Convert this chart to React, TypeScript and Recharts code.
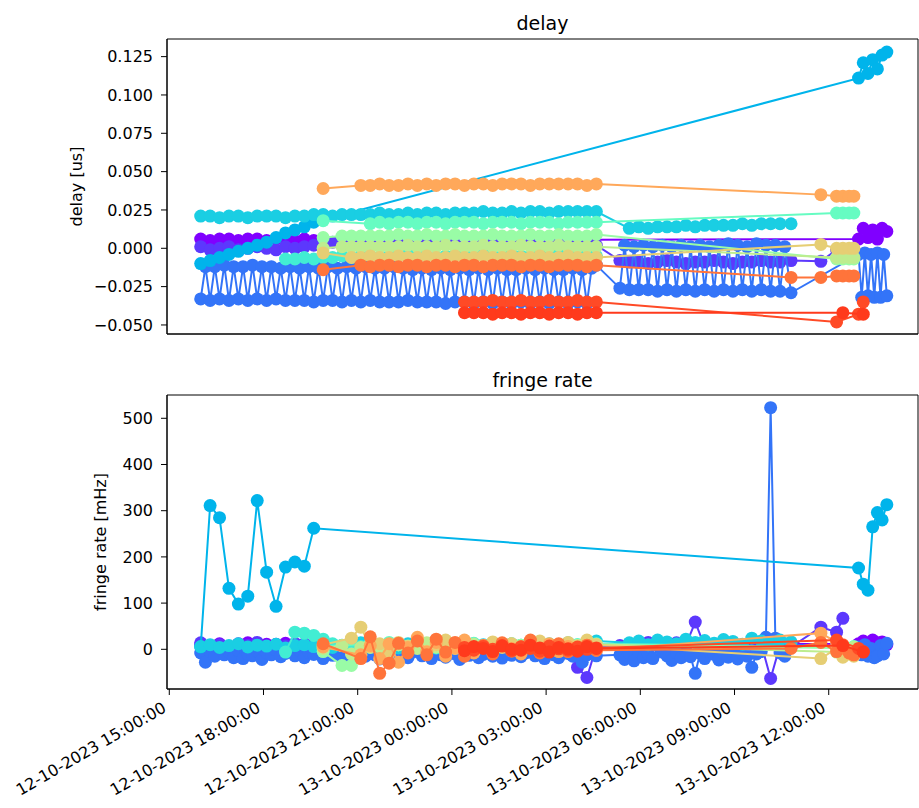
import React from 'react';
import { ScatterChart, Scatter, XAxis, YAxis, ReferenceArea } from 'recharts';

/* ── Data ─────────────────────────────────────────────────────────────── */
// hours counted from 12-10-2023 00:00
const _ = null;

const scanHours = [
  // evening / night block
  16.0, 16.3, 16.6, 16.9, 17.2, 17.5, 17.8, 18.1, 18.4, 18.7,
  19.0, 19.3, 19.6, 19.9, 20.2, 20.5, 20.8, 21.1, 21.4, 21.7,
  22.0, 22.3, 22.6, 22.9, 23.2, 23.5, 23.8, 24.1, 24.4, 24.7,
  25.0, 25.3, 25.6, 25.9, 26.2, 26.5, 26.8, 27.1, 27.4, 27.7,
  28.0, 28.3, 28.6,
  // morning block
  29.35, 29.65, 29.95, 30.25, 30.55, 30.85, 31.15, 31.45, 31.75, 32.05,
  32.35, 32.65, 32.95, 33.25, 33.55, 33.85, 34.15, 34.45, 34.8,
  // around noon
  35.75, 36.25, 36.45, 36.65, 36.8,
  36.95, 37.1, 37.25, 37.4, 37.55, 37.7, 37.85,
];

// the blue baseline alternates between two sources, so it has its own, denser scan list
const blueHours = [
  16.0, 16.15, 16.3, 16.45, 16.6, 16.75, 16.9, 17.05, 17.2, 17.35,
  17.5, 17.65, 17.8, 17.95, 18.1, 18.25, 18.4, 18.55, 18.7, 18.85,
  19.0, 19.15, 19.3, 19.45, 19.6, 19.75, 19.9, 20.05, 20.2, 20.35,
  20.5, 20.65, 20.8, 20.95, 21.1, 21.25, 21.4, 21.55, 21.7, 21.85,
  22.0, 22.15, 22.3, 22.45, 22.6, 22.75, 22.9, 23.05, 23.2, 23.35,
  23.5, 23.65, 23.8, 23.95, 24.1, 24.25, 24.4, 24.55, 24.7, 24.85,
  25.0, 25.15, 25.3, 25.45, 25.6, 25.75, 25.9, 26.05, 26.2, 26.35,
  26.5, 26.65, 26.8, 26.95, 27.1, 27.25, 27.4, 27.55, 27.7, 27.85,
  28.0, 28.15, 28.3, 28.45, 28.6,
  29.35, 29.5, 29.65, 29.8, 29.95, 30.1, 30.25, 30.4, 30.55, 30.7,
  30.85, 31.0, 31.15, 31.3, 31.45, 31.6, 31.75, 31.9, 32.05, 32.2,
  32.35, 32.5, 32.65, 32.8, 32.95, 33.1, 33.25, 33.4, 33.55, 33.7,
  33.85, 34.0, 34.15, 34.3, 34.45, 34.6, 34.8,
  36.95, 37.05, 37.15, 37.25, 37.35, 37.45, 37.55, 37.65, 37.75, 37.85,
];

const xTicks = [15, 18, 21, 24, 27, 30, 33, 36];
const xTickLabels = [
  '12-10-2023 15:00:00', '12-10-2023 18:00:00', '12-10-2023 21:00:00', '13-10-2023 00:00:00',
  '13-10-2023 03:00:00', '13-10-2023 06:00:00', '13-10-2023 09:00:00', '13-10-2023 12:00:00',
];
const delayTicks = [-0.05, -0.025, 0, 0.025, 0.05, 0.075, 0.1, 0.125];
const rateTicks = [0, 100, 200, 300, 400, 500];

const purpleDelay = [
  0.006, 0.005, 0.006, 0.006, 0.005, 0.006, 0.006, 0.005, 0.006, 0.006,
  0.005, 0.006, 0.005, _, _, _, _, _, _, _,
  _, _, _, _, _, _, _, _, _, _,
  _, _, _, _, _, _, _, _, _, _,
  _, _, _,
  _, _, _, _, _, _, _, _, _, _,
  _, _, _, _, _, _, _, _, _,
  _, _, _, _, _,
  0.006, 0.013, 0.007, 0.012, 0.006, 0.013, 0.011,
];
const purpleRate = [
  10, 4, 12, 6, 9, 14, 7, 11, 5, 13,
  8, 12, 9, _, _, _, _, _, _, _,
  _, _, _, _, _, _, _, _, _, _,
  _, _, _, _, _, _, _, _, _, _,
  _, _, _,
  _, _, _, _, _, _, _, _, _, _,
  _, _, _, _, _, _, _, _, _,
  _, _, _, _, _,
  12, 18, 8, 20, 14, 16, 10,
];

const violetDelay = [
  0.001, -0.001, 0.000, 0.001, -0.001, 0.000, 0.001, 0.000, -0.001, 0.001,
  0.000, 0.001, 0.002, 0.004, 0.004, 0.003, 0.004, 0.003, 0.003, 0.004,
  0.003, 0.003, 0.004, 0.003, 0.003, 0.004, 0.003, 0.003, 0.004, 0.003,
  0.003, 0.004, 0.003, 0.003, 0.004, 0.003, 0.003, 0.004, 0.003, 0.003,
  0.004, 0.003, 0.002,
  -0.008, -0.009, -0.009, -0.010, -0.009, -0.008, -0.009, -0.010, -0.009, -0.009,
  -0.008, -0.009, -0.010, -0.009, -0.009, -0.008, -0.009, -0.009, -0.008,
  -0.0085, -0.001, -0.002, _, _,
  _, _, _, _, _, _, _,
];
const violetRate = [
  14, 6, 10, 3, 12, 8, 15, 5, 11, 7,
  13, 4, 9, 6, 10, 2, 8, 12, 5, 9,
  3, 11, 7, 14, 6, 2, 10, 8, 4, 12,
  6, 9, 3, 11, 8, 5, 13, 2, 7, 10,
  -39, -61, 6,
  8, 12, 5, 15, 10, 7, 14, 9, 59, 6,
  11, 13, 4, 10, 8, 12, -63, 9, 5,
  48, 37, 67, _, _,
  _, _, _, _, _, _, _,
];

// aligned with blueHours
const blueDelay = [
  -0.033, -0.012, -0.034, -0.012, -0.033, -0.011, -0.034, -0.012, -0.033, -0.012,
  -0.034, -0.011, -0.033, -0.012, -0.034, -0.012, -0.033, -0.013, -0.034, -0.012,
  -0.034, -0.013, -0.034, -0.012, -0.035, -0.013, -0.034, -0.012, -0.034, -0.013,
  -0.035, -0.012, -0.034, -0.013, -0.035, -0.012, -0.034, -0.013, -0.035, -0.013,
  -0.035, -0.012, -0.035, -0.013, -0.034, -0.014, -0.035, -0.013, -0.035, -0.014,
  -0.035, -0.013, -0.036, -0.014, -0.035, -0.013, -0.035, -0.014, -0.036, -0.013,
  -0.035, -0.014, -0.036, -0.013, -0.035, -0.014, -0.036, -0.014, -0.035, -0.013,
  -0.036, -0.014, -0.035, -0.013, -0.036, -0.014, -0.035, -0.014, -0.036, -0.013,
  -0.035, -0.014, -0.036, -0.013, -0.011,
  -0.026, 0.002, -0.027, 0.001, -0.027, 0.002, -0.027, 0.001, -0.028, 0.002,
  -0.027, 0.001, -0.028, 0.002, -0.027, 0.001, -0.028, 0.002, -0.027, 0.001,
  -0.028, 0.002, -0.027, 0.003, -0.028, 0.002, -0.027, 0.001, -0.028, 0.003,
  -0.027, 0.002, -0.028, 0.002, -0.028, 0.001, -0.029,
  -0.004, -0.032, -0.003, -0.031, -0.004, -0.032, -0.003, -0.032, -0.004, -0.031,
];
const blueRate = [
  -8, -28, -5, -15, 2, -12, -6, -18, -3, -20,
  -10, -14, -4, -22, -8, -12, -2, -16, -9, -5,
  -14, -3, -18, -7, -11, -2, -20, -6, -13, -4,
  -19, -8, -22, -3, -10, -15, -5, -12, -21, -7,
  -9, -16, -4, -11, -18, -6, -2, -14, -8, -20,
  -5, -12, -17, -3, -10, -22, -7, -13, -4, -18,
  -11, -6, -15, -2, -19, -9, -13, -5, -16, -8,
  -3, -14, -10, -20, -6, -12, -18, -4, -9, -15,
  -7, -28, -12, -5, -14,
  -12, -22, -8, -25, -5, -18, -10, -20, 8, -6,
  -14, -24, -7, -18, -3, -16, -52, -9, -20, -5,
  -11, -23, -8, -17, -4, -21, -9, -15, -39, -10,
  -5, 26, 523, 24, -8, -15, 10,
  5, -12, 10, -15, 2, -18, -14, 8, -10, 13,
];

const lightBlueDelay = [
  -0.010, -0.008, -0.006, -0.004, -0.002, 0.000, 0.002, 0.004, 0.007, 0.010,
  0.012, 0.014, 0.017, _, _, _, _, _, _, _,
  _, _, _, _, _, _, _, _, _, _,
  _, _, _, _, _, _, _, _, _, _,
  _, _, _,
  _, _, _, _, _, _, _, _, _, _,
  _, _, _, _, _, _, _, _, _,
  _, _, _, _, _,
  0.111, 0.121, 0.114, 0.123, 0.117, 0.126, 0.128,
];
const lightBlueRate = [
  5, 311, 285, 132, 98, 115, 322, 167, 93, 178,
  189, 180, 262, _, _, _, _, _, _, _,
  _, _, _, _, _, _, _, _, _, _,
  _, _, _, _, _, _, _, _, _, _,
  _, _, _,
  _, _, _, _, _, _, _, _, _, _,
  _, _, _, _, _, _, _, _, _,
  _, _, _, _, _,
  176, 141, 128, 265, 296, 280, 313,
];

const cyanDelay = [
  0.021, 0.021, 0.020, 0.021, 0.021, 0.020, 0.021, 0.021, 0.021, 0.020,
  0.021, 0.021, 0.022, 0.022, 0.021, 0.022, 0.022, 0.022, 0.022, 0.023,
  0.022, 0.022, 0.023, 0.022, 0.023, 0.023, 0.022, 0.023, 0.023, 0.023,
  0.024, 0.023, 0.023, 0.024, 0.023, 0.024, 0.024, 0.023, 0.024, 0.024,
  0.024, 0.024, 0.024,
  _, 0.013, 0.014, 0.013, 0.014, 0.014, 0.014, 0.015, 0.014, 0.015,
  0.015, 0.015, 0.015, 0.016, 0.015, 0.016, 0.016, 0.016, 0.016,
  _, _, _, _, _,
  _, _, _, _, _, _, _,
];
const cyanRate = [
  6, 10, 4, 8, 12, 5, 9, 7, 11, 3,
  8, 10, 6, 12, 4, 9, 7, 14, 5, 10,
  8, 3, 12, 6, 9, 11, 4, 8, 13, 6,
  10, 5, 9, 12, 7, 4, 11, 8, 6, 14,
  9, 12, 18,
  _, 14, 18, 10, 20, 16, 12, 22, 15, 19,
  13, 21, 17, 11, 24, 18, 14, 20, 16,
  _, _, _, _, _,
  _, _, _, _, _, _, _,
];

const turquoiseDelay = [
  _, _, _, _, _, _, _, _, _, -0.007,
  -0.007, -0.006, -0.007, -0.006, -0.006, -0.005, -0.006, -0.005, -0.005, -0.006,
  -0.005, -0.005, -0.004, -0.005, -0.005, -0.006, -0.005, -0.004, -0.005, -0.005,
  -0.004, -0.005, -0.005, -0.004, -0.005, -0.005, -0.004, -0.005, -0.004, -0.005,
  -0.005, -0.004, -0.005,
  _, _, _, _, _, _, _, _, _, _,
  _, _, _, _, _, _, _, _, _,
  _, _, _, _, _,
  _, _, _, _, _, _, _,
];
const turquoiseRate = [
  _, _, _, _, _, _, _, _, _, -6,
  37, 35, 30, 22, 12, 8, 14, 6, 10, 4,
  9, 12, 5, 8, 11, 3, 7, 10, 6, 9,
  4, 8, 11, 6, 9, 3, 7, 12, 5, 8,
  10, 6, 9,
  _, _, _, _, _, _, _, _, _, _,
  _, _, _, _, _, _, _, _, _,
  _, _, _, _, _,
  _, _, _, _, _, _, _,
];

const aquaDelay = [
  _, _, _, _, _, _, _, _, _, _,
  _, _, _, 0.018, _, _, _, _, 0.016, 0.017,
  0.016, 0.017, 0.017, 0.016, 0.017, 0.017, 0.016, 0.017, 0.017, 0.017,
  0.016, 0.017, 0.017, 0.017, 0.016, 0.017, 0.017, 0.017, 0.016, 0.017,
  0.017, 0.017, 0.017,
  _, _, _, _, _, _, _, _, _, _,
  _, _, _, _, _, _, _, _, _,
  _, 0.023, 0.023, 0.023, 0.023,
  _, _, _, _, _, _, _,
];
const aquaRate = [
  _, _, _, _, _, _, _, _, _, _,
  _, _, _, 6, _, _, _, _, 12, 8,
  15, 10, 6, 12, 9, 14, 7, 11, 5, 13,
  8, 10, 12, 6, 9, 15, 7, 11, 8, 13,
  10, 6, 12,
  _, _, _, _, _, _, _, _, _, _,
  _, _, _, _, _, _, _, _, _,
  _, 4, 8, 2, 6,
  _, _, _, _, _, _, _,
];

const lightGreenDelay = [
  _, _, _, _, _, _, _, _, _, _,
  _, _, _, 0.007, _, 0.008, 0.008, 0.008, 0.008, 0.008,
  0.008, 0.009, 0.008, 0.008, 0.009, 0.008, 0.008, 0.009, 0.008, 0.008,
  0.008, 0.009, 0.008, 0.008, 0.008, 0.009, 0.008, 0.008, 0.009, 0.008,
  0.008, 0.008, 0.009,
  _, _, _, _, _, _, _, _, _, _,
  _, _, _, _, _, _, _, _, _,
  _, -0.007, -0.007, -0.007, -0.007,
  _, _, _, _, _, _, _,
];
const lightGreenRate = [
  _, _, _, _, _, _, _, _, _, _,
  _, _, _, -5, _, -35, -35, -12, 4, 8,
  6, 10, 3, 8, 12, 5, 9, 7, 11, 4,
  8, 6, 10, 3, 9, 12, 5, 7, 10, 6,
  8, 4, 9,
  _, _, _, _, _, _, _, _, _, _,
  _, _, _, _, _, _, _, _, _,
  _, 3, 6, 0, 5,
  _, _, _, _, _, _, _,
];

const yellowGreenDelay = [
  _, _, _, _, _, _, _, _, _, _,
  _, _, _, 0.000, _, 0.001, 0.001, 0.001, 0.001, 0.001,
  0.001, 0.001, 0.002, 0.001, 0.001, 0.001, 0.002, 0.001, 0.001, 0.001,
  0.002, 0.001, 0.001, 0.001, 0.002, 0.001, 0.001, 0.001, 0.002, 0.001,
  0.001, 0.001, 0.001,
  _, _, _, _, _, _, _, _, _, _,
  _, _, _, _, _, _, _, _, _,
  _, -0.006, -0.006, -0.006, -0.006,
  _, _, _, _, _, _, _,
];
const yellowGreenRate = [
  _, _, _, _, _, _, _, _, _, _,
  _, _, _, 2, _, 8, -10, 4, 12, 6,
  -4, 10, 7, 2, 14, 5, -6, 9, 3, 11,
  6, -3, 8, 12, 4, 9, -5, 7, 10, 3,
  8, 5, 11,
  _, _, _, _, _, _, _, _, _, _,
  _, _, _, _, _, _, _, _, _,
  _, -6, 2, -10, 4,
  _, _, _, _, _, _, _,
];

const khakiDelay = [
  _, _, _, _, _, _, _, _, _, _,
  _, _, _, -0.003, _, _, -0.006, -0.006, -0.005, -0.006,
  -0.006, -0.005, -0.006, -0.006, -0.005, -0.006, -0.006, -0.005, -0.006, -0.006,
  -0.005, -0.006, -0.006, -0.005, -0.006, -0.006, -0.005, -0.006, -0.006, -0.005,
  -0.006, -0.006, -0.006,
  _, _, _, _, _, _, _, _, _, _,
  _, _, _, _, _, _, _, _, _,
  0.0025, 0.000, 0.000, 0.000, 0.000,
  _, _, _, _, _, _, _,
];
const khakiRate = [
  _, _, _, _, _, _, _, _, _, _,
  _, _, _, 10, _, _, 24, 48, 5, 12,
  -8, 15, 6, 18, -4, 10, 20, 2, 14, -6,
  8, 16, 4, 12, -3, 9, 18, 6, 11, 15,
  7, 20, 10,
  _, _, _, _, _, _, _, _, _, _,
  _, _, _, _, _, _, _, _, _,
  -20, 2, -17, -8, -15,
  _, _, _, _, _, _, _,
];

const lightOrangeDelay = [
  _, _, _, _, _, _, _, _, _, _,
  _, _, _, 0.039, _, _, _, 0.041, 0.041, 0.042,
  0.041, 0.041, 0.042, 0.041, 0.042, 0.041, 0.042, 0.042, 0.041, 0.042,
  0.042, 0.041, 0.042, 0.042, 0.042, 0.041, 0.042, 0.042, 0.042, 0.042,
  0.042, 0.041, 0.042,
  _, _, _, _, _, _, _, _, _, _,
  _, _, _, _, _, _, _, _, _,
  0.035, 0.034, 0.034, 0.034, 0.034,
  _, _, _, _, _, _, _,
];
const lightOrangeRate = [
  _, _, _, _, _, _, _, _, _, _,
  _, _, _, 5, _, _, _, -12, 8, -20,
  12, -28, 4, 26, -6, 15, -15, 3, 20, -8,
  6, -4, 10, 2, -10, 8, 0, 12, -5, 6,
  3, 9, -2,
  _, _, _, _, _, _, _, _, _, _,
  _, _, _, _, _, _, _, _, _,
  35, 15, 2, -8, -12,
  _, _, _, _, _, _, _,
];

const orangeDelay = [
  _, _, _, _, _, _, _, _, _, _,
  _, _, _, -0.014, _, _, _, -0.011, -0.012, -0.011,
  -0.011, -0.012, -0.011, -0.011, -0.012, -0.011, -0.011, -0.012, -0.011, -0.011,
  -0.012, -0.011, -0.011, -0.011, -0.012, -0.011, -0.011, -0.012, -0.011, -0.011,
  -0.011, -0.012, -0.011,
  _, _, _, _, _, _, _, _, _, _,
  _, _, _, _, _, _, _, _, -0.019,
  -0.019, -0.018, -0.018, -0.018, -0.018,
  _, _, _, _, _, _, _,
];
const orangeRate = [
  _, _, _, _, _, _, _, _, _, _,
  _, _, _, 12, _, _, _, -20, 27, -52,
  -30, 13, -8, 18, -12, 22, -6, 15, -15, 3,
  8, -10, 14, -4, 6, 20, -8, 2, 12, -5,
  4, 9, -2,
  _, _, _, _, _, _, _, _, _, _,
  _, _, _, _, _, _, _, _, 2,
  15, -5, 10, -8, -12,
  _, _, _, _, _, _, _,
];

const redTopDelay = [
  _, _, _, _, _, _, _, _, _, _,
  _, _, _, _, _, _, _, _, _, _,
  _, _, _, _, _, _, _, _, -0.035, -0.035,
  -0.035, -0.034, -0.035, -0.035, -0.034, -0.035, -0.035, -0.034, -0.035, -0.035,
  -0.034, -0.035, -0.035,
  _, _, _, _, _, _, _, _, _, _,
  _, _, _, _, _, _, _, _, _,
  _, -0.048, _, _, _,
  -0.043, -0.035, _, _, _, _, _,
];
const redTopRate = [
  _, _, _, _, _, _, _, _, _, _,
  _, _, _, _, _, _, _, _, _, _,
  _, _, _, _, _, _, _, _, 4, -2,
  6, 0, 8, -3, 5, 2, -4, 7, 1, -2,
  5, 0, 3,
  _, _, _, _, _, _, _, _, _, _,
  _, _, _, _, _, _, _, _, _,
  _, 20, _, _, _,
  2, -5, _, _, _, _, _,
];

const redLowDelay = [
  _, _, _, _, _, _, _, _, _, _,
  _, _, _, _, _, _, _, _, _, _,
  _, _, _, _, _, _, _, _, -0.042, -0.042,
  -0.042, -0.043, -0.042, -0.042, -0.043, -0.042, -0.042, -0.043, -0.042, -0.042,
  -0.043, -0.042, -0.042,
  _, _, _, _, _, _, _, _, _, _,
  _, _, _, _, _, _, _, _, _,
  _, _, -0.042, _, _,
  _, -0.043, _, _, _, _, _,
];
const redLowRate = [
  _, _, _, _, _, _, _, _, _, _,
  _, _, _, _, _, _, _, _, _, _,
  _, _, _, _, _, _, _, _, -3, 6,
  2, -5, 7, 0, -2, 9, 3, -6, 4, 1,
  -4, 6, 2,
  _, _, _, _, _, _, _, _, _, _,
  _, _, _, _, _, _, _, _, _,
  _, _, 8, _, _,
  _, -6, _, _, _, _, _,
];

// baselines in colour-map order (later ones drawn on top)
const baselines = [
  { color: '#8000ff', hours: scanHours, delay: purpleDelay, rate: purpleRate },
  { color: '#5c38fd', hours: scanHours, delay: violetDelay, rate: violetRate },
  { color: '#3374f8', hours: blueHours, delay: blueDelay, rate: blueRate },
  { color: '#00b4eb', hours: scanHours, delay: lightBlueDelay, rate: lightBlueRate },
  { color: '#1acee3', hours: scanHours, delay: cyanDelay, rate: cyanRate },
  { color: '#42edd3', hours: scanHours, delay: turquoiseDelay, rate: turquoiseRate },
  { color: '#66fcc2', hours: scanHours, delay: aquaDelay, rate: aquaRate },
  { color: '#99fca6', hours: scanHours, delay: lightGreenDelay, rate: lightGreenRate },
  { color: '#bded8f', hours: scanHours, delay: yellowGreenDelay, rate: yellowGreenRate },
  { color: '#e6ce74', hours: scanHours, delay: khakiDelay, rate: khakiRate },
  { color: '#ffa85a', hours: scanHours, delay: lightOrangeDelay, rate: lightOrangeRate },
  { color: '#ff743b', hours: scanHours, delay: orangeDelay, rate: orangeRate },
  { color: '#ff4a26', hours: scanHours, delay: redTopDelay, rate: redTopRate },
  { color: '#ff3a1c', hours: scanHours, delay: redLowDelay, rate: redLowRate },
];

/* ── Layout ──────────────────────────────────────────────────────────── */
const X_MIN = 14.927;
const X_MAX = 38.843;
const DELAY_MIN = -0.0559;
const DELAY_MAX = 0.1365;
const RATE_MIN = -85.9;
const RATE_MAX = 550.4;
const FONT = 'DejaVu Sans';
const TICK_FS = 16;

const toPoints = (hours: number[], vals: (number | null)[]) =>
  hours
    .map((t, i) => ({ t, v: vals[i] }))
    .filter((d) => d.v !== null && d.v !== undefined);

const fmtDelay = (v: number) => v.toFixed(3).replace('-', '\u2212');

// rotated date labels, right edge on the tick like matplotlib's ha='right'
function DateTick(props: any) {
  const { x, y, payload } = props;
  const label = xTickLabels[xTicks.indexOf(payload.value)];
  const px = x - 2;
  const py = y + 8;
  return (
    <text x={px} y={py} transform={`rotate(-30, ${px}, ${py})`} textAnchor="end"
      fontSize={TICK_FS} fill="#000" fontFamily={FONT}>
      {label}
    </text>
  );
}

function Panel({ field, height, top, xHeight, yMin, yMax, yTicks, fmt, showDates }: {
  field: 'delay' | 'rate';
  height: number; top: number; xHeight: number;
  yMin: number; yMax: number; yTicks: number[];
  fmt: (v: number) => string; showDates: boolean;
}) {
  return (
    <ScatterChart width={919} height={height} margin={{ top, right: 1, bottom: 0, left: 0 }}>
      <XAxis
        dataKey="t" type="number" domain={[X_MIN, X_MAX]} allowDataOverflow
        ticks={xTicks} interval={0} height={xHeight}
        tickSize={6} tickMargin={8}
        tick={showDates ? <DateTick /> : false}
        axisLine={{ stroke: '#000' }} tickLine={{ stroke: '#000' }}
      />
      <YAxis
        dataKey="v" type="number" domain={[yMin, yMax]} allowDataOverflow
        ticks={yTicks} interval={0} width={167}
        tickSize={6} tickMargin={8} tickFormatter={fmt}
        tick={{ fill: '#000', fontSize: TICK_FS, fontFamily: FONT }}
        axisLine={{ stroke: '#000' }} tickLine={{ stroke: '#000' }}
      />
      {baselines.map((b, i) => (
        <Scatter
          key={`${field}-${i}`}
          data={toPoints(b.hours, b[field])}
          fill={b.color}
          line={{ stroke: b.color, strokeWidth: 2 }}
          shape={(p: any) => <circle cx={p.cx} cy={p.cy} r={6.5} fill={b.color} />}
          isAnimationActive={false}
        />
      ))}
      <ReferenceArea x1={X_MIN} x2={X_MAX} y1={yMin} y2={yMax}
        fill="none" fillOpacity={0} stroke="#000" strokeWidth={1} ifOverflow="visible" />
    </ScatterChart>
  );
}

export default function App() {
  return (
    <div style={{ position: 'absolute', left: 0, top: 0, width: 919, height: 808, background: '#fff', fontFamily: FONT }}>
      <div style={{ position: 'absolute', left: 0, top: 0 }}>
        <Panel field="delay" height={345} top={39} xHeight={11}
          yMin={DELAY_MIN} yMax={DELAY_MAX} yTicks={delayTicks} fmt={fmtDelay} showDates={false} />
      </div>
      <div style={{ position: 'absolute', left: 0, top: 350 }}>
        <Panel field="rate" height={458} top={45} xHeight={119}
          yMin={RATE_MIN} yMax={RATE_MAX} yTicks={rateTicks} fmt={(v) => String(v)} showDates />
      </div>
      <svg width={919} height={808} style={{ position: 'absolute', left: 0, top: 0, pointerEvents: 'none' }}>
        <text x={542.5} y={30} textAnchor="middle" fontSize={19} fill="#000" fontFamily={FONT}>delay</text>
        <text x={542.5} y={387} textAnchor="middle" fontSize={19} fill="#000" fontFamily={FONT}>fringe rate</text>
        <text transform="translate(82,186.5) rotate(-90)" textAnchor="middle" fontSize={TICK_FS} fill="#000" fontFamily={FONT}>delay [us]</text>
        <text transform="translate(106,542) rotate(-90)" textAnchor="middle" fontSize={TICK_FS} fill="#000" fontFamily={FONT}>fringe rate [mHz]</text>
      </svg>
    </div>
  );
}
